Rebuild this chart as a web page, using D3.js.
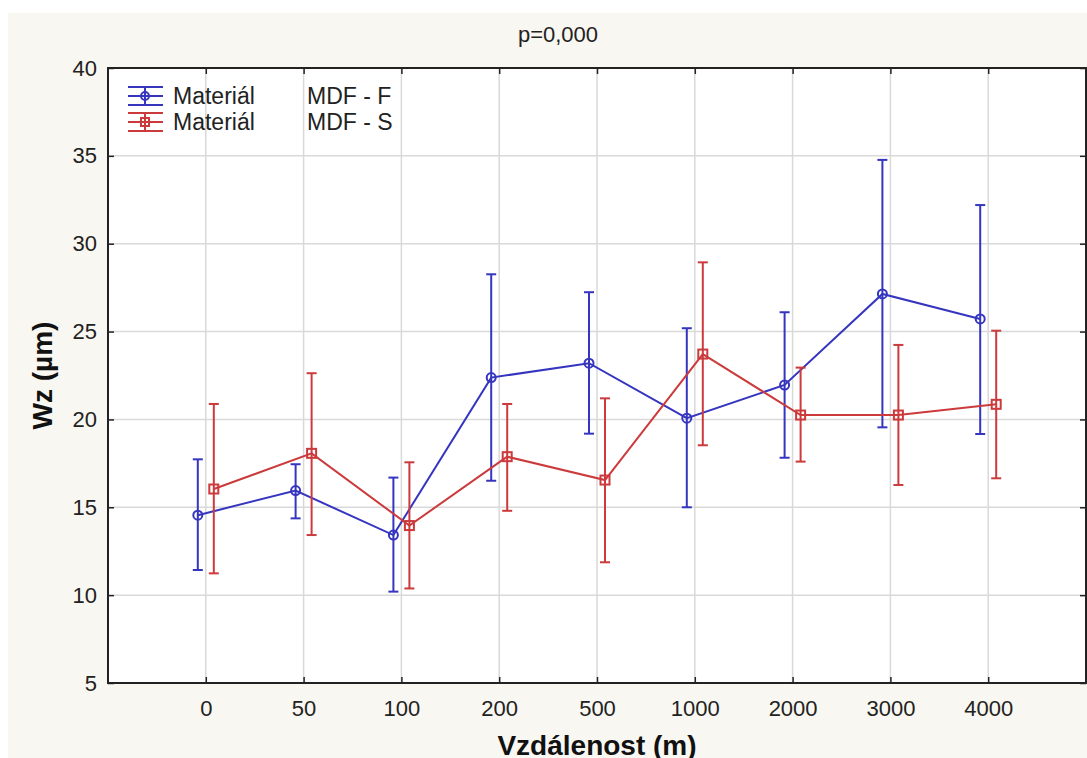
<!DOCTYPE html>
<html lang="cs">
<head>
<meta charset="UTF-8">
<title>Wz vs vzdálenost</title>
<script src="https://cdn.jsdelivr.net/npm/d3@7"></script>
<style>
  body { margin: 0; background: #fff; }
  svg { display: block; font-family: "Liberation Sans", Arial, sans-serif; }
</style>
</head>
<body>
<svg id="mainsvg" width="1087" height="758"></svg>
<script>
// data
const distances = ['0', '50', '100', '200', '500', '1000', '2000', '3000', '4000'];
const yTicks = [5, 10, 15, 20, 25, 30, 35, 40];

const meanF = [14.55, 15.95, 13.42, 22.38, 23.2, 20.07, 21.96, 27.14, 25.72];
const lowF  = [11.43, 14.37, 10.2, 16.51, 19.19, 15.0, 17.82, 19.55, 19.17];
const highF = [17.73, 17.45, 16.69, 28.26, 27.24, 25.19, 26.1, 34.77, 32.2];

const meanS = [16.04, 18.07, 13.96, 17.88, 16.55, 23.72, 20.25, 20.25, 20.86];
const lowS  = [11.24, 13.42, 10.38, 14.8, 11.87, 18.53, 17.6, 16.27, 16.65];
const highS = [20.88, 22.63, 17.56, 20.88, 21.2, 28.94, 22.95, 24.24, 25.05];

const svg = d3.select('#mainsvg');
const width = +svg.attr('width');
const height = +svg.attr('height');
const margin = { top: 68, right: 1, bottom: 75, left: 108 };
const innerWidth = width - margin.left - margin.right;
const innerHeight = height - margin.top - margin.bottom;

svg.append('rect').attr('x', 8).attr('y', 13)
  .attr('width', width - 8).attr('height', height - 13).attr('fill', '#f9f7f1');

const g = svg.append('g').attr('transform', `translate(${margin.left},${margin.top})`);

const xScale = d3.scalePoint().domain(distances).range([0, innerWidth]).padding(1);
const yScale = d3.scaleLinear().domain([5, 40]).range([innerHeight, 0]);

g.append('rect').attr('width', innerWidth).attr('height', innerHeight).attr('fill', '#fff');

// grid
g.selectAll('.vgrid').data(distances).join('line')
  .attr('x1', d => xScale(d)).attr('x2', d => xScale(d))
  .attr('y1', 0).attr('y2', innerHeight)
  .attr('stroke', '#d9d9d9').attr('stroke-width', 1.5);
g.selectAll('.hgrid').data(yTicks.slice(1, -1)).join('line')
  .attr('x1', 0).attr('x2', innerWidth)
  .attr('y1', d => yScale(d)).attr('y2', d => yScale(d))
  .attr('stroke', '#d9d9d9').attr('stroke-width', 1.5);

// axes with inward ticks on all four sides
const axisStyle = sel => {
  sel.select('.domain').remove();
  sel.selectAll('.tick line').attr('stroke', '#222').attr('stroke-width', 1.5);
  sel.selectAll('.tick text').attr('font-size', 22).attr('fill', '#222')
    .attr('font-family', '"Liberation Sans", Arial, sans-serif');
};
g.append('g').attr('transform', `translate(0,${innerHeight})`)
  .call(d3.axisBottom(xScale).tickSizeInner(-6).tickPadding(17))
  .call(axisStyle);
g.append('g')
  .call(d3.axisTop(xScale).tickSizeInner(-6).tickFormat(''))
  .call(axisStyle);
g.append('g')
  .call(d3.axisLeft(yScale).tickValues(yTicks).tickSizeInner(-6).tickPadding(11))
  .call(axisStyle);
g.append('g').attr('transform', `translate(${innerWidth},0)`)
  .call(d3.axisRight(yScale).tickValues(yTicks).tickSizeInner(-6).tickFormat(''))
  .call(axisStyle);

g.append('rect').attr('width', innerWidth).attr('height', innerHeight)
  .attr('fill', 'none').attr('stroke', '#222').attr('stroke-width', 2);

// series
const series = [
  { name: 'MDF - F', color: '#3535c0', shift: -8, mean: meanF, low: lowF, high: highF, marker: 'circle' },
  { name: 'MDF - S', color: '#cc3a3c', shift: 8, mean: meanS, low: lowS, high: highS, marker: 'square' }
];

const line = d3.line().x(d => d.x).y(d => d.y);

series.forEach(s => {
  const pts = distances.map((d, i) => ({
    x: xScale(d) + s.shift, y: yScale(s.mean[i]), lo: yScale(s.low[i]), hi: yScale(s.high[i])
  }));
  const sg = g.append('g');
  sg.selectAll('.err').data(pts).join('line')
    .attr('x1', d => d.x).attr('x2', d => d.x).attr('y1', d => d.lo).attr('y2', d => d.hi)
    .attr('stroke', s.color).attr('stroke-width', 2);
  sg.selectAll('.capT').data(pts).join('line')
    .attr('x1', d => d.x - 5).attr('x2', d => d.x + 5).attr('y1', d => d.hi).attr('y2', d => d.hi)
    .attr('stroke', s.color).attr('stroke-width', 2);
  sg.selectAll('.capB').data(pts).join('line')
    .attr('x1', d => d.x - 5).attr('x2', d => d.x + 5).attr('y1', d => d.lo).attr('y2', d => d.lo)
    .attr('stroke', s.color).attr('stroke-width', 2);
  sg.append('path').datum(pts).attr('d', line)
    .attr('fill', 'none').attr('stroke', s.color).attr('stroke-width', 2);
  if (s.marker === 'circle') {
    sg.selectAll('.mk').data(pts).join('circle')
      .attr('cx', d => d.x).attr('cy', d => d.y).attr('r', 4.5)
      .attr('fill', 'none').attr('stroke', s.color).attr('stroke-width', 2);
  } else {
    sg.selectAll('.mk').data(pts).join('rect')
      .attr('x', d => d.x - 4.5).attr('y', d => d.y - 4.5).attr('width', 9).attr('height', 9)
      .attr('fill', 'none').attr('stroke', s.color).attr('stroke-width', 2);
  }
});

// legend
const lg = svg.append('g');
series.forEach((s, i) => {
  const cy = 96 + i * 26;
  const row = lg.append('g').attr('transform', `translate(0,${cy})`);
  [-9, 0, 9].forEach(dy => row.append('line')
    .attr('x1', 128).attr('x2', 163).attr('y1', dy).attr('y2', dy)
    .attr('stroke', s.color).attr('stroke-width', 2));
  row.append('line').attr('x1', 145).attr('x2', 145).attr('y1', -9).attr('y2', 9)
    .attr('stroke', s.color).attr('stroke-width', 2);
  if (s.marker === 'circle') {
    row.append('circle').attr('cx', 145).attr('cy', 0).attr('r', 4)
      .attr('fill', 'none').attr('stroke', s.color).attr('stroke-width', 2);
  } else {
    row.append('rect').attr('x', 141).attr('y', -4).attr('width', 8).attr('height', 8)
      .attr('fill', 'none').attr('stroke', s.color).attr('stroke-width', 2);
  }
  row.append('text').attr('x', 173).attr('y', 7.5).attr('font-size', 23).attr('fill', '#222')
    .text('Materiál');
  row.append('text').attr('x', 307).attr('y', 7.5).attr('font-size', 23).attr('fill', '#222')
    .text(s.name);
});

// titles
svg.append('text').attr('x', 558).attr('y', 42).attr('text-anchor', 'middle')
  .attr('font-size', 22).attr('fill', '#222').text('p=0,000');
svg.append('text').attr('x', 597).attr('y', 755)
  .attr('text-anchor', 'middle').attr('font-size', 28).attr('font-weight', 'bold')
  .attr('fill', '#111').text('Vzdálenost (m)');
svg.append('text').attr('transform', `translate(52,${margin.top + innerHeight / 2}) rotate(-90)`)
  .attr('text-anchor', 'middle').attr('font-size', 28).attr('font-weight', 'bold')
  .attr('fill', '#111').text('Wz (µm)');
</script>
</body>
</html>
